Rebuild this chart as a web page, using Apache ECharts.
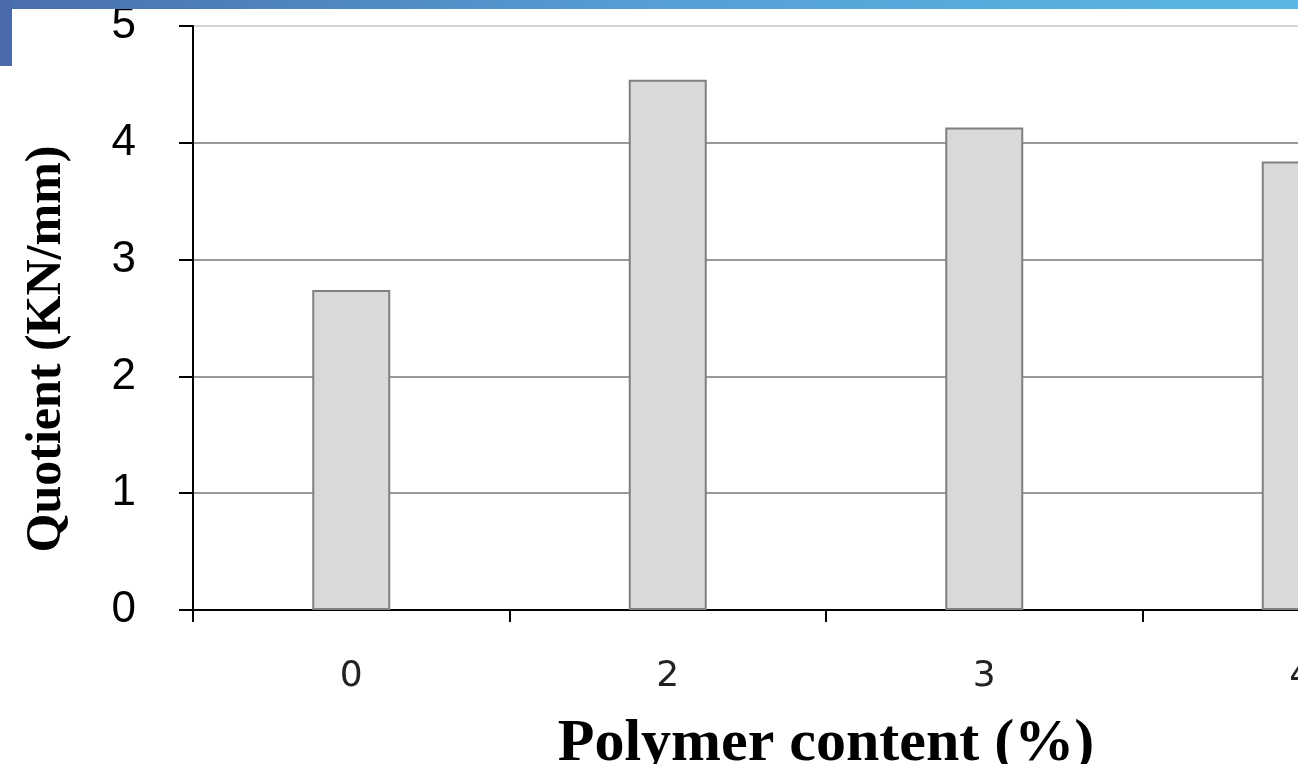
<!DOCTYPE html>
<html>
<head>
<meta charset="utf-8">
<script src="https://cdn.jsdelivr.net/npm/echarts@6/dist/echarts.min.js"></script>
<style>
html,body{margin:0;padding:0;background:#fff;}
#chart{width:1298px;height:764px;}
</style>
</head>
<body>
<div id="chart"></div>
<script>
const categories = ['0', '2', '3', '4'];
const quotientValues = [2.74, 4.54, 4.13, 3.84];
const yTicks = [0, 1, 2, 3, 4, 5];
const xTitle = 'Polymer content (%)';
const yTitle = 'Quotient (KN/mm)';

const chart = echarts.init(document.getElementById('chart'));
chart.setOption({
  backgroundColor: '#ffffff',
  animation: false,
  graphic: [
    {
      type: 'rect', left: 0, top: 0, z: 100,
      shape: { width: 1298, height: 9 },
      style: {
        fill: new echarts.graphic.LinearGradient(0, 0, 1, 0, [
          { offset: 0, color: '#4a6eae' },
          { offset: 0.5, color: '#559fd6' },
          { offset: 1, color: '#5bb7e5' }
        ])
      }
    },
    {
      type: 'rect', left: 0, top: 0, z: 100,
      shape: { width: 12, height: 66 },
      style: { fill: '#4a6aab' }
    }
  ],
  grid: { left: 193, top: 26, right: -161, bottom: 154, containLabel: false, outerBoundsMode: 'none' },
  xAxis: {
    type: 'category',
    data: categories,
    name: xTitle,
    nameLocation: 'middle',
    nameGap: 104,
    nameTextStyle: { fontFamily: 'Liberation Serif', fontWeight: 'bold', fontSize: 60, color: '#000', padding: [0, 0, 0, 0] },
    axisLine: { show: true, lineStyle: { color: '#000', width: 2 } },
    axisTick: { show: true, alignWithLabel: false, length: 12, lineStyle: { color: '#000', width: 2 } },
    axisLabel: { margin: 49, fontFamily: 'DejaVu Sans', fontSize: 36, color: '#222' },
    splitLine: { show: false }
  },
  yAxis: {
    type: 'value',
    min: 0, max: 5, interval: 1,
    name: yTitle,
    nameLocation: 'middle',
    nameGap: 121,
    nameRotate: 90,
    nameTextStyle: { fontFamily: 'Liberation Serif', fontWeight: 'bold', fontSize: 50, color: '#000', padding: [0, 62, 0, 0] },
    axisLine: { show: true, lineStyle: { color: '#000', width: 2 } },
    axisTick: { show: true, length: 14, lineStyle: { color: '#000', width: 2 } },
    axisLabel: {
      margin: 57, fontFamily: 'Liberation Sans', fontSize: 44, color: '#000',
      formatter: v => String(yTicks[Math.round(v)])
    },
    splitLine: { show: true, lineStyle: { color: ['#999999', '#999999', '#999999', '#999999', '#999999', '#d6d6d6'], width: 2 } }
  },
  series: [{
    type: 'bar',
    data: quotientValues,
    barWidth: 78,
    itemStyle: { color: '#d9d9d9', borderColor: '#808080', borderWidth: 2 }
  }]
});
</script>
</body>
</html>
